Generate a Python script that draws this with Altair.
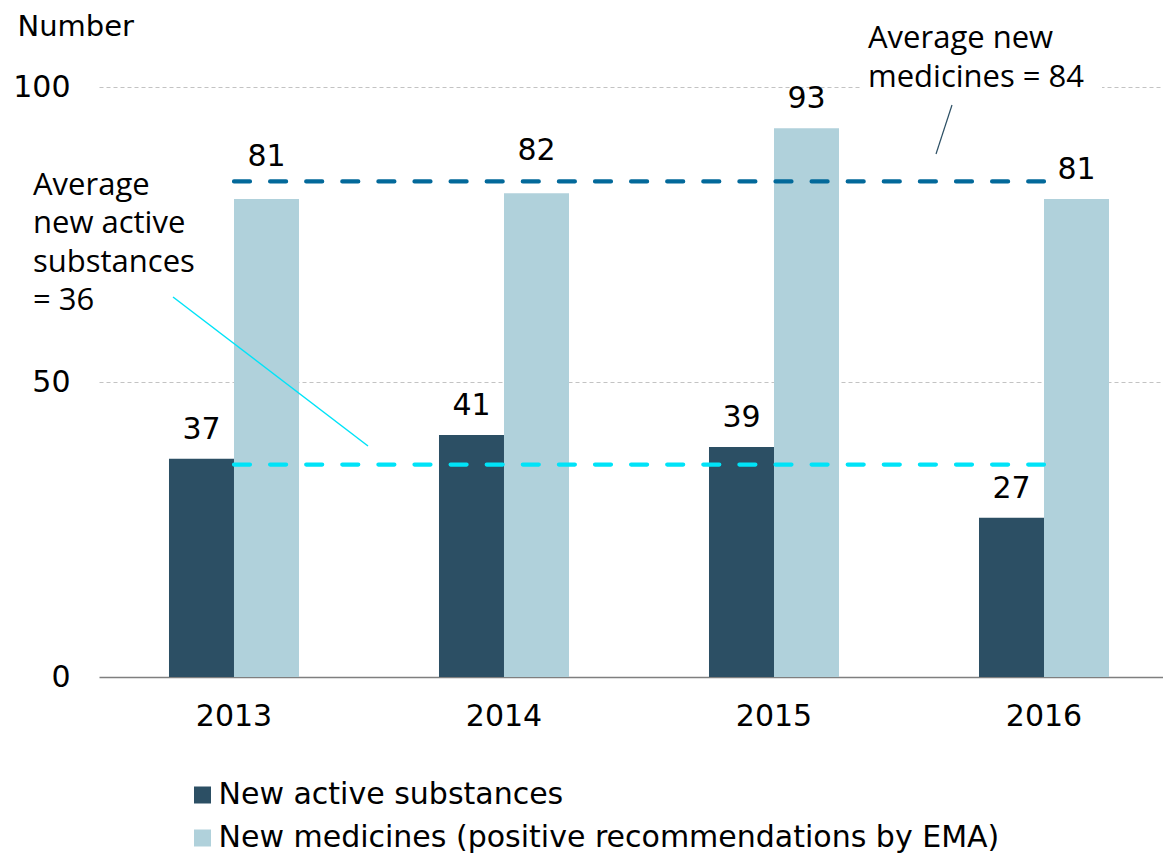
import altair as alt
import pandas as pd

# ---- data ----
years = ["2013", "2014", "2015", "2016"]
new_active = [37, 41, 39, 27]
new_medicines = [81, 82, 93, 81]
avg_active = 36
avg_medicines = 84
series_names = ["New active substances",
                "New medicines (positive recommendations by EMA)"]

bar_colors = ["#2C4F64", "#B0D1DB"]
dark_line = "#03699A"
cyan_line = "#00E3F8"

W, H = 1064, 590
FONT = "DejaVu Sans"
NOTE_FONT = "Open Sans"
FS = 30

df = pd.DataFrame({
    "year": years * 2,
    "series": [series_names[0]] * len(years) + [series_names[1]] * len(years),
    "value": new_active + new_medicines,
})
df_avg_active = pd.DataFrame({"year": years, "avg": [avg_active] * len(years)})
df_avg_med = pd.DataFrame({"year": years, "avg": [avg_medicines] * len(years)})

x_scale = alt.Scale(paddingInner=0.5185, paddingOuter=0.2296, align=0.5645)
x_enc = alt.X("year:N", scale=x_scale, sort=years,
              axis=alt.Axis(title=None, labelAngle=0, ticks=False,
                            labelFont=FONT, labelFontSize=FS, labelColor="black",
                            labelPadding=24, domainColor="#7F7F7F",
                            domainWidth=1.5, grid=False))
y_enc = alt.Y("value:Q",
              scale=alt.Scale(domain=[0, 100], nice=False),
              axis=alt.Axis(title="Number", values=[0, 50, 100], ticks=False,
                            domain=False, labelFont=FONT, labelFontSize=FS,
                            labelColor="black", labelPadding=29,
                            grid=True, gridColor="#C3C3C3", gridDash=[4, 3],
                            gridWidth=1,
                            titleAngle=0, titleAlign="left", titleBaseline="alphabetic",
                            titleX=-82, titleY=-52, titleFont=FONT,
                            titleFontSize=29, titleFontWeight="normal",
                            titleColor="black"))
xoff = alt.XOffset("series:N", sort=series_names,
                   scale=alt.Scale(paddingInner=0, paddingOuter=0))

bars = alt.Chart(df).mark_bar().encode(
    x=x_enc, y=y_enc, xOffset=xoff,
    color=alt.Color("series:N", sort=series_names,
                    scale=alt.Scale(domain=series_names, range=bar_colors),
                    legend=alt.Legend(title=None, orient="none", legendX=88.5,
                                      legendY=693, direction="vertical",
                                      symbolType="square", symbolSize=289,
                                      symbolStrokeWidth=0, symbolOpacity=1,
                                      labelFont=FONT, labelFontSize=FS,
                                      labelColor="black", labelOffset=1,
                                      rowPadding=13, padding=0,
                                      labelLimit=1000)),
)

is_lifted = "datum.series === '%s' && (datum.year === '2013' || datum.year === '2014')" % series_names[1]

labels = alt.Chart(df).transform_filter("!(" + is_lifted + ")").mark_text(
    font=FONT, fontSize=FS, color="black", baseline="middle", dy=-29
).encode(x=alt.X("year:N", sort=years), y="value:Q", xOffset=xoff, text="value:Q")

labels_lifted = alt.Chart(df).transform_filter(is_lifted).mark_text(
    font=FONT, fontSize=FS, color="black", baseline="middle", dy=-42
).encode(x=alt.X("year:N", sort=years), y="value:Q", xOffset=xoff, text="value:Q")

line_med = alt.Chart(df_avg_med).mark_line(
    color=dark_line, strokeWidth=4.2, strokeDash=[16, 20.1], strokeCap="round"
).encode(x=alt.X("year:N", sort=years), y=alt.Y("avg:Q"))

line_act = alt.Chart(df_avg_active).mark_line(
    color=cyan_line, strokeWidth=4.2, strokeDash=[16, 20.1], strokeCap="round"
).encode(x=alt.X("year:N", sort=years), y=alt.Y("avg:Q"))

one = alt.Data(values=[{"k": 1}])

# white box behind the top annotation (interrupts the 100 gridline)
note_bg = alt.Chart(one).mark_rect(color="white").encode(
    x=alt.value(761), x2=alt.value(1003), y=alt.value(-8), y2=alt.value(8))

note_med = alt.Chart(one).mark_text(
    font=NOTE_FONT, fontSize=31, color="black", align="left",
    baseline="alphabetic", lineHeight=39,
    text=["Average new", "medicines = " + str(avg_medicines)]
).encode(x=alt.value(769), y=alt.value(-39))

note_act = alt.Chart(one).mark_text(
    font=NOTE_FONT, fontSize=31, color="black", align="left",
    baseline="alphabetic", lineHeight=38.3,
    text=["Average", "new active", "substances", "= " + str(avg_active)]
).encode(x=alt.value(-66), y=alt.value(108))

lead_med = alt.Chart(one).mark_rule(color="#2C4F64", strokeWidth=1.2).encode(
    x=alt.value(853), x2=alt.value(837), y=alt.value(18), y2=alt.value(67))

lead_act = alt.Chart(one).mark_rule(color=cyan_line, strokeWidth=1.5).encode(
    x=alt.value(74), x2=alt.value(269), y=alt.value(210), y2=alt.value(359))

chart = alt.layer(
    bars, line_act, line_med, labels, labels_lifted,
    note_bg, note_med, note_act, lead_med, lead_act
).properties(
    width=W, height=H,
    autosize=alt.AutoSizeParams(type="none"),
    padding={"left": 91, "top": 79, "right": 0, "bottom": 179},
).configure_view(stroke=None).configure_axisY(
    gridOpacity={"condition": {"test": "datum.value === 0", "value": 0}, "value": 1}
)

chart.save("out.html", embed_options={"renderer": "svg", "actions": False})
